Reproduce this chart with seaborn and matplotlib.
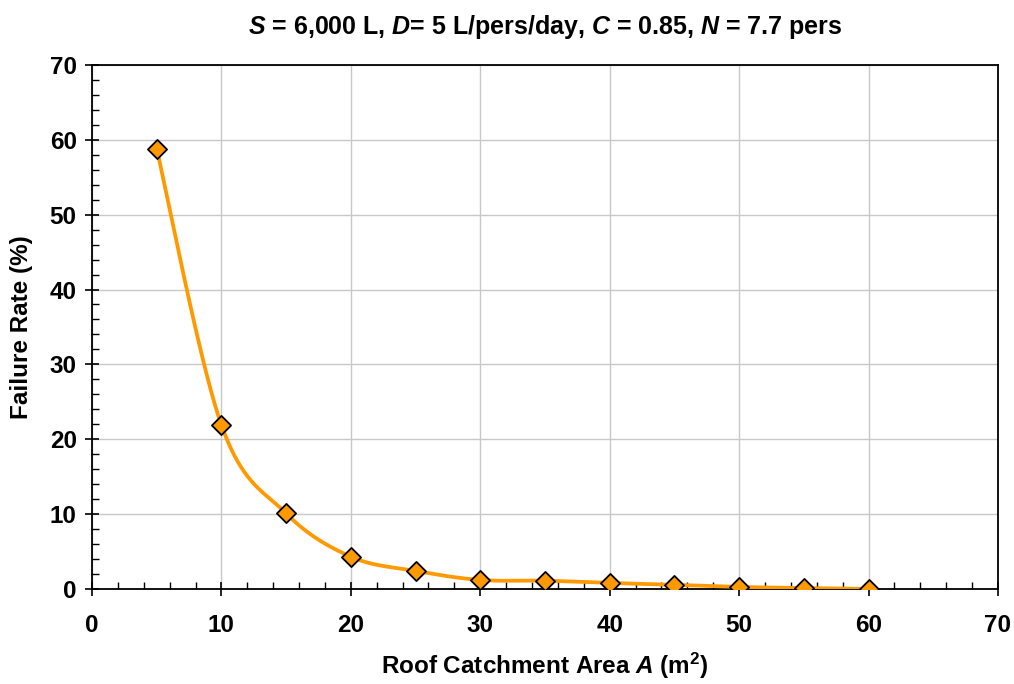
import numpy as np
import pandas as pd
import matplotlib
matplotlib.use("Agg")
import matplotlib.pyplot as plt
import seaborn as sns
from matplotlib.ticker import MultipleLocator

area = [5, 10, 15, 20, 25, 30, 35, 40, 45, 50, 55, 60]
failure = [58.8, 21.9, 10.1, 4.3, 2.4, 1.2, 1.1, 0.8, 0.55, 0.27, 0.12, 0.0]

sns.set_theme(style="white")
plt.rcParams['font.family'] = ['Liberation Sans', 'DejaVu Sans']
plt.rcParams['font.weight'] = 'bold'
plt.rcParams['text.color'] = 'black'
plt.rcParams['axes.labelcolor'] = 'black'
plt.rcParams['xtick.color'] = 'black'
plt.rcParams['ytick.color'] = 'black'
plt.rcParams['mathtext.fontset'] = 'custom'
plt.rcParams['mathtext.rm'] = 'Liberation Sans:bold'
plt.rcParams['mathtext.bf'] = 'Liberation Sans:bold'
plt.rcParams['mathtext.it'] = 'Liberation Sans:italic:bold'


def smooth_curve(xs, ys, n=40):
    # Excel-style smoothed line (Bezier with Catmull-Rom control points)
    P = np.column_stack([xs, ys]).astype(float)
    P = np.vstack([P[0], P, P[-1]])
    out = []
    for i in range(1, len(P) - 2):
        p0, p1, p2, p3 = P[i - 1], P[i], P[i + 1], P[i + 2]
        c1 = p1 + (p2 - p0) / 6.0
        c2 = p2 - (p3 - p1) / 6.0
        t = np.linspace(0, 1, n)[:, None]
        seg = ((1 - t) ** 3) * p1 + 3 * ((1 - t) ** 2) * t * c1 + 3 * (1 - t) * t ** 2 * c2 + t ** 3 * p2
        out.append(seg if i == 1 else seg[1:])
    return np.vstack(out)


curve = smooth_curve(area, failure)
df_pts = pd.DataFrame({"area": area, "failure": failure})

fig = plt.figure(figsize=(10.14, 6.84), dpi=100)
ax = fig.add_axes([0.0907, 0.139, 0.8935, 0.766])

ax.plot(curve[:, 0], curve[:, 1], color="#FF9900", lw=2.7, zorder=3)
sns.scatterplot(data=df_pts, x="area", y="failure", marker="D", s=95,
                color="#FF9900", edgecolor="black", linewidth=1.3, ax=ax, zorder=4)

ax.set_xlim(0, 70)
ax.set_ylim(0, 70)
ax.xaxis.set_major_locator(MultipleLocator(10))
ax.yaxis.set_major_locator(MultipleLocator(10))
ax.xaxis.set_minor_locator(MultipleLocator(2))
ax.yaxis.set_minor_locator(MultipleLocator(2))
ax.grid(True, which="major", color="#c8c8c8", lw=1)
ax.set_axisbelow(True)

for s in ax.spines.values():
    s.set_color("black")
    s.set_linewidth(1.3)
    s.set_visible(True)

ax.tick_params(which="major", direction="inout", length=10, width=1.2, color="black",
               labelsize=17.5, pad=6, bottom=True, left=True, labelcolor="black")
ax.tick_params(axis="x", which="major", pad=13)
ax.tick_params(which="minor", direction="in", length=5, width=1, color="black",
               bottom=True, left=True)
for lab in ax.get_xticklabels() + ax.get_yticklabels():
    lab.set_fontweight("bold")

ax.set_xlabel(r"Roof Catchment Area $\mathit{A}$ (m$^{2}$)", fontsize=17.5, fontweight="bold",
              labelpad=10, color="black")
ax.set_ylabel("Failure Rate (%)", fontsize=17.5, fontweight="bold", labelpad=12, color="black")
ax.set_title(r"$\mathit{S}$ = 6,000 L, $\mathit{D}$= 5 L/pers/day, $\mathit{C}$ = 0.85, $\mathit{N}$ = 7.7 pers",
             fontsize=18, fontweight="bold", pad=22, color="black")

fig.savefig("out.png", dpi=100)
